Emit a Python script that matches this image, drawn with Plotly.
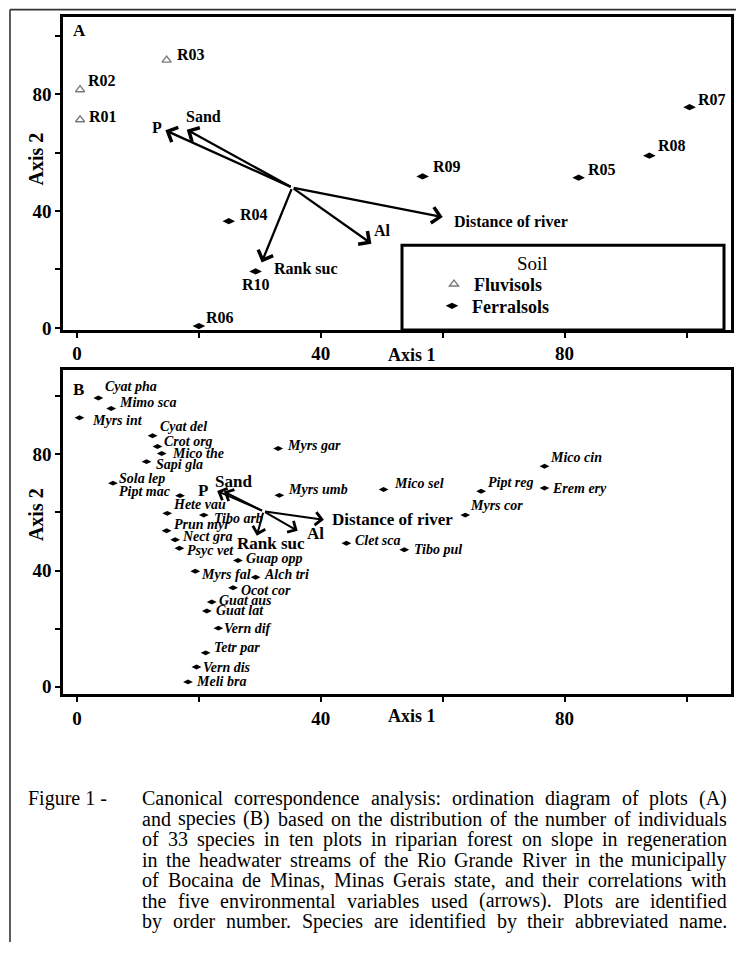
import plotly.graph_objects as go

# The page body has an 8px default margin; the figure is sized so the page does not
# overflow the 744x959 window, and all placements below are given in window pixels.
WIN_W, WIN_H = 744, 959
OFF = 8
W, H = WIN_W - OFF, WIN_H - 2 * OFF
SERIF = "Liberation Serif"

# ---------------- Panel A data (plots) ----------------
plot_ids = ["R01", "R02", "R03", "R04", "R05", "R06", "R07", "R08", "R09", "R10"]
plot_axis1 = [0.5, 0.5, 14.7, 24.9, 82.3, 20.0, 100.5, 93.9, 56.7, 29.3]
plot_axis2 = [71.2, 81.5, 91.6, 36.5, 51.4, 0.6, 75.5, 58.9, 51.8, 19.3]
plot_soil = ["Fluvisols", "Fluvisols", "Fluvisols", "Ferralsols", "Ferralsols",
             "Ferralsols", "Ferralsols", "Ferralsols", "Ferralsols", "Ferralsols"]

# environmental vectors (A)
env_names = ["P", "Sand", "Rank suc", "Al", "Distance of river"]
env_origin_A = (35.3, 48.0)
env_axis1_A = [14.5, 18.0, 30.3, 48.3, 60.0]
env_axis2_A = [67.6, 67.8, 22.4, 28.8, 37.9]

# ---------------- Panel B data (species) ----------------
species = ["Cyat pha", "Mimo sca", "Myrs int", "Cyat del", "Crot org", "Mico the",
           "Sapi gla", "Sola lep", "Pipt mac", "Hete vau", "Tibo arb", "Prun myr",
           "Nect gra", "Psyc vet", "Guap opp", "Myrs fal", "Alch tri", "Ocot cor",
           "Guat aus", "Guat lat", "Vern dif", "Tetr par", "Vern dis", "Meli bra",
           "Myrs gar", "Myrs umb", "Clet sca", "Mico sel", "Tibo pul", "Myrs cor",
           "Pipt reg", "Mico cin", "Erem ery"]
species_axis1 = [3.5, 5.6, 0.4, 12.4, 13.2, 13.9, 11.4, 5.9, 16.9, 14.8, 20.8, 14.7,
                 16.1, 16.8, 26.4, 19.4, 29.3, 25.6, 22.1, 21.3, 23.2, 21.1, 19.6, 18.2,
                 33.0, 33.2, 44.2, 50.3, 53.7, 63.7, 66.3, 76.7, 76.7]
species_axis2 = [99.4, 95.8, 92.6, 86.4, 82.7, 80.3, 77.5, 70.1, 65.8, 59.7, 59.1, 53.7,
                 50.6, 47.7, 43.5, 39.8, 37.7, 34.1, 29.2, 26.1, 20.2, 11.7, 6.8, 1.7,
                 82.0, 65.9, 49.4, 67.9, 47.2, 59.1, 67.3, 75.9, 68.4]

env_origin_B = (30.6, 60.4)
env_axis1_B = [23.0, 24.1, 29.5, 36.2, 40.5]
env_axis2_B = [67.4, 67.2, 52.0, 53.7, 57.5]

tick_vals = [0, 20, 40, 60, 80, 100]
tick_text = ["0", "", "40", "", "80", ""]

caption_lines = [
    "Canonical correspondence analysis: ordination diagram of plots (A)",
    "and species (B) based on the distribution of the number of individuals",
    "of 33 species in ten plots in riparian forest on slope in regeneration",
    "in the headwater streams of the Rio Grande River in the municipally",
    "of Bocaina de Minas, Minas Gerais state, and their correlations with",
    "the five environmental variables used (arrows). Plots are identified",
    "by order number. Species are identified by their abbreviated name.",
]
caption_prefix = "Figure 1 -"

# ---------------- label placement styles (pixel offsets) ----------------
plot_label_off = [(7, 3), (6, 9), (8, 6), (9, 7), (7, 8), (5, 9), (6, 8), (7, 10), (8, 10), (0, -13)]
plot_label_anchor = ["left"] * 9 + ["center"]
species_label_off = [(5, 11), (6, 6), (11, -3), (5, 9), (5, 5), (8, 0), (7, -3), (4, 5),
                     (-7, 4), (4, 9), (8, -3), (5, 6), (5, 3), (6, -2), (6, 2), (4, -3),
                     (6, 3), (6, -3), (5, 1), (7, 0), (4, 0), (6, 5), (5, 0), (6, 0),
                     (7, 3), (7, 6), (7, 3), (8, 6), (8, 0), (3, 10), (5, 9), (3, 9), (5, 0)]
species_label_anchor = ["left"] * 33
species_label_anchor[8] = "right"

envA_label_off = [(-8, 3, "center"), (17, 13, "center"), (44, -6, "center"), (11, 13, "center"), (9, -4, "left")]
envB_label_off = [(-14, 0, "center"), (10, 10, "center"), (14, -8, "center"), (18, -3, "center"), (6, 0, "left")]


def pxx(p):
    return (p - OFF) / W


def pxy(p):
    return 1 - (p - OFF) / H


fig = go.Figure()

soil_style = {
    "Fluvisols": dict(symbol="triangle-up-open", color="#7a7a7a", size=8, line=dict(width=1.4, color="#7a7a7a")),
    "Ferralsols": dict(symbol="diamond-wide", color="black", size=9),
}
soil_legend = {"Fluvisols": "legend", "Ferralsols": "legend2"}
for soil in ["Fluvisols", "Ferralsols"]:
    xs = [x for x, s in zip(plot_axis1, plot_soil) if s == soil]
    ys = [y for y, s in zip(plot_axis2, plot_soil) if s == soil]
    fig.add_trace(go.Scatter(x=xs, y=ys, mode="markers", name=soil, marker=soil_style[soil],
                             xaxis="x", yaxis="y", showlegend=True, legend=soil_legend[soil]))

fig.add_trace(go.Scatter(x=species_axis1, y=species_axis2, mode="markers",
                         marker=dict(symbol="diamond-wide", color="black", size=7),
                         xaxis="x2", yaxis="y2", showlegend=False))

ann = []
for name, x, y, (dx, dy), anc in zip(plot_ids, plot_axis1, plot_axis2, plot_label_off, plot_label_anchor):
    ann.append(dict(x=x, y=y, xref="x", yref="y", text=name, showarrow=False,
                    xanchor=anc, yanchor="middle", xshift=dx, yshift=dy,
                    font=dict(family=SERIF, size=16, color="black", weight="bold")))
for name, x, y, (dx, dy), anc in zip(species, species_axis1, species_axis2, species_label_off, species_label_anchor):
    ann.append(dict(x=x, y=y, xref="x2", yref="y2", text="<i>" + name + "</i>", showarrow=False,
                    xanchor=anc, yanchor="middle", xshift=dx, yshift=dy,
                    font=dict(family=SERIF, size=14, color="black", weight="bold")))


def add_arrows(origin, xs, ys, offs, xr, yr, width, hsize, fsize):
    for name, x, y, (dx, dy, anc) in zip(env_names, xs, ys, offs):
        ann.append(dict(x=x, y=y, ax=origin[0], ay=origin[1], xref=xr, yref=yr, axref=xr, ayref=yr,
                        text="", showarrow=True, arrowhead=4, arrowsize=hsize, arrowwidth=width,
                        arrowcolor="black"))
        ann.append(dict(x=x, y=y, xref=xr, yref=yr, text=name, showarrow=False,
                        xanchor=anc, yanchor="middle", xshift=dx, yshift=dy,
                        font=dict(family=SERIF, size=fsize, color="black", weight="bold")))


add_arrows(env_origin_A, env_axis1_A, env_axis2_A, envA_label_off, "x", "y", 2.3, 1.35, 16)
add_arrows(env_origin_B, env_axis1_B, env_axis2_B, envB_label_off, "x2", "y2", 2.0, 1.25, 17)

for letter, (lx, ly) in zip(["A", "B"], [(79, 31), (78, 393)]):
    ann.append(dict(x=pxx(lx), y=pxy(ly), xref="paper", yref="paper", text=letter, showarrow=False,
                    xanchor="center", yanchor="middle",
                    font=dict(family=SERIF, size=17, color="black", weight="bold")))

for (tx, ty) in [(412, 358), (412, 723)]:
    ann.append(dict(x=pxx(tx), y=pxy(ty), xref="paper", yref="paper", text="Axis 1", showarrow=False,
                    xanchor="center", yanchor="middle",
                    font=dict(family=SERIF, size=18, color="black", weight="bold")))
for (tx, ty) in [(36, 161), (36, 520)]:
    ann.append(dict(x=pxx(tx), y=pxy(ty), xref="paper", yref="paper", text="Axis 2", showarrow=False,
                    xanchor="center", yanchor="middle", textangle=-90,
                    font=dict(family=SERIF, size=20, color="black", weight="bold")))

ann.append(dict(x=pxx(532), y=pxy(266), xref="paper", yref="paper", text="Soil", showarrow=False,
                xanchor="center", yanchor="middle",
                font=dict(family=SERIF, size=19, color="black")))

# caption, justified using Times metrics
TW = {' ': 250, 'a': 444, 'b': 500, 'c': 444, 'd': 500, 'e': 444, 'f': 333, 'g': 500, 'h': 500,
      'i': 278, 'j': 278, 'k': 500, 'l': 278, 'm': 778, 'n': 500, 'o': 500, 'p': 500, 'q': 500,
      'r': 333, 's': 389, 't': 278, 'u': 500, 'v': 500, 'w': 722, 'x': 500, 'y': 500, 'z': 444,
      'A': 722, 'B': 667, 'C': 667, 'D': 722, 'E': 611, 'F': 556, 'G': 722, 'H': 722, 'I': 333,
      'J': 389, 'K': 722, 'L': 611, 'M': 889, 'N': 722, 'O': 722, 'P': 556, 'Q': 722, 'R': 667,
      'S': 556, 'T': 611, 'U': 722, 'V': 722, 'W': 944, 'X': 722, 'Y': 722, 'Z': 611,
      '(': 333, ')': 333, '.': 250, ',': 250, ':': 278, '-': 333}
CAP_SIZE = 20


def wpx(s):
    return sum(TW.get(c, 500) for c in s) / 1000 * CAP_SIZE


cap_left, cap_right = 140, 725
cap_y0, cap_dy = 806, 20.7
capfont = dict(family=SERIF, size=CAP_SIZE, color="black")
ann.append(dict(x=pxx(26), y=pxy(cap_y0), xref="paper", yref="paper", text=caption_prefix,
                showarrow=False, xanchor="left", yanchor="middle", font=capfont))
for i, line in enumerate(caption_lines):
    words = line.split(" ")
    total = sum(wpx(w) for w in words)
    gap = (cap_right - cap_left - total) / (len(words) - 1)
    xpos = cap_left
    ypos = cap_y0 + i * cap_dy
    for w in words:
        ann.append(dict(x=pxx(xpos), y=pxy(ypos), xref="paper", yref="paper", text=w,
                        showarrow=False, xanchor="left", yanchor="middle", font=capfont))
        xpos += wpx(w) + gap

shapes = [
    dict(type="line", xref="paper", yref="paper", x0=pxx(10), y0=pxy(9.6), x1=1, y1=pxy(9.6),
         line=dict(color="#333333", width=1.6)),
    dict(type="line", xref="paper", yref="paper", x0=pxx(10), y0=pxy(9.6), x1=pxx(10), y1=0,
         line=dict(color="#333333", width=1.6)),
    dict(type="rect", xref="paper", yref="paper", x0=pxx(402), y0=pxy(333), x1=pxx(724), y1=pxy(247.5),
         line=dict(color="black", width=3), fillcolor="rgba(0,0,0,0)"),
]

axis_common = dict(tickvals=tick_vals, ticktext=tick_text, ticks="outside", ticklen=5, tickwidth=1.5,
                   tickcolor="black", showline=True, mirror=True, linewidth=2.5, linecolor="black",
                   showgrid=False, zeroline=False,
                   tickfont=dict(family=SERIF, size=19, color="black", weight="bold"))

legend_common = dict(xanchor="left", yanchor="middle", bgcolor="rgba(0,0,0,0)", borderwidth=0,
                     itemwidth=30, font=dict(family=SERIF, size=18, color="black", weight="bold"))

fig.update_layout(
    width=W, height=H,
    margin=dict(l=0, r=0, t=0, b=0),
    paper_bgcolor="white", plot_bgcolor="white",
    xaxis=dict(domain=[pxx(63), pxx(731)], range=[-2.3, 107.3], anchor="y", **axis_common),
    yaxis=dict(domain=[pxy(333), pxy(17)], range=[-0.7, 106.4], anchor="x", **axis_common),
    xaxis2=dict(domain=[pxx(63), pxx(731)], range=[-2.3, 107.3], anchor="y2", **axis_common),
    yaxis2=dict(domain=[pxy(701), pxy(373)], range=[-2.6, 109.2], anchor="x2", **axis_common),
    legend=dict(x=pxx(434), y=pxy(287), **legend_common),
    legend2=dict(x=pxx(432), y=pxy(309), **legend_common),
    annotations=ann,
    shapes=shapes,
)

fig.write_html("out.html")
